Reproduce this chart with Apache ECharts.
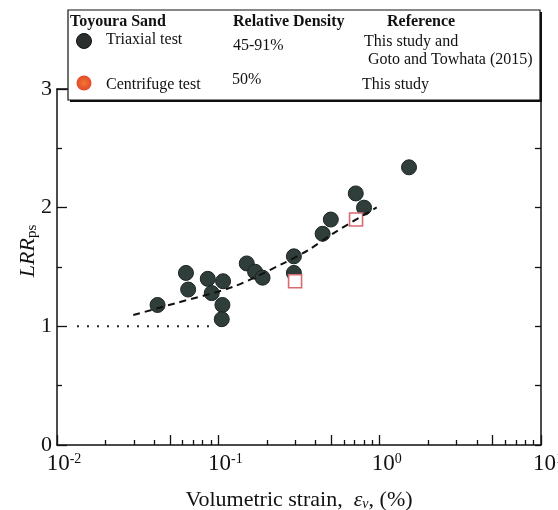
<!DOCTYPE html>
<html>
<head>
<meta charset="utf-8">
<script src="https://cdn.jsdelivr.net/npm/echarts@6/dist/echarts.min.js"></script>
<style>
  html, body { margin: 0; padding: 0; background: #fff; }
  #main { width: 558px; height: 510px; }
</style>
</head>
<body>
<div id="main"></div>
<script>
// triaxial tests (this study + Goto and Towhata 2015)
var triaxialStrain = [0.042, 0.063, 0.065, 0.086, 0.091, 0.107, 0.106, 0.105, 0.150, 0.169, 0.188, 0.294, 0.294, 0.443, 0.498, 0.711, 0.80, 1.52];
var triaxialLRR    = [1.18, 1.45, 1.31, 1.40, 1.28, 1.38, 1.18, 1.06, 1.53, 1.46, 1.41, 1.59, 1.45, 1.78, 1.90, 2.12, 2.00, 2.34];
// centrifuge tests (this study)
var centrifugeStrain = [0.299, 0.714];
var centrifugeLRR    = [1.38, 1.90];
// dashed trend line
var trendStrain = [0.0297, 0.054, 0.124, 0.253, 0.361, 0.516, 0.959];
var trendLRR    = [1.095, 1.194, 1.334, 1.531, 1.643, 1.784, 2.003];
// dotted baseline LRR = 1
var baseStrain = [0.0133, 0.089];
var baseLRR    = [1, 1];
// bottom axis minor ticks
var minorTicks = [0.02, 0.03, 0.04, 0.06, 0.07, 0.08, 0.09, 0.2, 0.3, 0.4, 0.6, 0.7, 0.8, 0.9, 2, 3, 4, 6, 7, 8, 9];
var midTicks = [0.05, 0.5, 5];

var serif = 'Liberation Serif';

function pairs(xs, ys){
	var out = [];
	for (var i = 0; i < xs.length; i++) out.push([xs[i], ys[i]]);
	return out;
}
function logs(arr){
	return arr.map(function(v){ return Math.log10(v); });
}

var tickOverlay = function(values, len){
	return {
		type: 'value', min: -2, max: 1, position: 'bottom',
		axisLine: { show: false, onZero: false },
		axisLabel: { show: false },
		splitLine: { show: false },
		axisTick: { show: true, inside: true, length: len, customValues: logs(values),
			lineStyle: { color: '#111', width: 1.3 } }
	};
};

var myChart = echarts.init(document.getElementById('main'));
var option = {
	backgroundColor: '#fff',
	animation: false,
	grid: { left: 57, right: 17, top: 89, bottom: 65, containLabel: false, outerBoundsMode: 'none' },
	xAxis: [
		{
			type: 'log', min: 0.01, max: 10, logBase: 10, position: 'bottom',
			name: '{t|Volumetric strain,  }{e|ε}{v|v}{t|, (%)}',
			nameLocation: 'middle', nameGap: 44, nameMoveOverlap: false,
			nameTextStyle: {
				rich: {
					t: { fontFamily: serif, fontSize: 22, color: '#111' },
					e: { fontFamily: serif, fontSize: 22, fontStyle: 'italic', color: '#111' },
					v: { fontFamily: serif, fontSize: 14, fontStyle: 'italic', color: '#111', padding: [8, 0, 0, 0] }
				}
			},
			axisLine: { onZero: false, lineStyle: { color: '#111', width: 1.5 } },
			axisTick: { inside: true, length: 10, lineStyle: { color: '#111', width: 1.3 } },
			splitLine: { show: false },
			axisLabel: {
				margin: 7,
				padding: [0, 0, 0, 14],
				formatter: function(v){
					var e = Math.round(Math.log10(v));
					return '{b|10}{s|' + e + '}';
				},
				rich: {
					b: { fontFamily: serif, fontSize: 23, color: '#111' },
					s: { fontFamily: serif, fontSize: 14, color: '#111', padding: [0, 0, 10, 0] }
				}
			}
		},
		tickOverlay(minorTicks, 5),
		tickOverlay(midTicks, 10),
		{
			type: 'value', min: -2, max: 1, position: 'top',
			axisLine: { show: true, onZero: false, lineStyle: { color: '#111', width: 1.5 } },
			axisTick: { show: false }, axisLabel: { show: false }, splitLine: { show: false }
		}
	],
	yAxis: [
		{
			type: 'value', min: 0, max: 3, interval: 1, position: 'left',
			name: '{l|LRR}{p|ps}',
			nameLocation: 'middle', nameGap: 17, nameRotate: 90, nameMoveOverlap: false,
			nameTextStyle: {
				padding: [0, 0, 0, 32],
				rich: {
					l: { fontFamily: serif, fontSize: 22, fontStyle: 'italic', color: '#111' },
					p: { fontFamily: serif, fontSize: 15, color: '#111', padding: [9, 0, 0, 0] }
				}
			},
			axisLine: { onZero: false, lineStyle: { color: '#111', width: 1.5 } },
			axisTick: { inside: true, length: 10, lineStyle: { color: '#111', width: 1.3 } },
			minorTick: { show: true, splitNumber: 2, length: 5, lineStyle: { color: '#111', width: 1.3 } },
			splitLine: { show: false },
			axisLabel: { margin: 5, fontFamily: serif, fontSize: 22, color: '#111' }
		},
		{
			type: 'value', min: 0, max: 3, interval: 0.5, position: 'right',
			axisLine: { show: true, onZero: false, lineStyle: { color: '#111', width: 1.5 } },
			axisTick: { inside: true, length: 6, lineStyle: { color: '#111', width: 1.3 } },
			axisLabel: { show: false }, splitLine: { show: false }
		}
	],
	series: [
		{
			type: 'line', data: pairs(baseStrain, baseLRR), symbol: 'none',
			lineStyle: { color: '#222', width: 2, type: [2, 8] }
		},
		{
			type: 'line', data: pairs(trendStrain, trendLRR), symbol: 'none', smooth: 0.3,
			lineStyle: { color: '#111', width: 2, type: [7, 5] }
		},
		{
			name: 'Triaxial test', type: 'scatter', data: pairs(triaxialStrain, triaxialLRR),
			symbol: 'circle', symbolSize: 15,
			itemStyle: { color: '#2f3e3a', borderColor: '#1b2421', borderWidth: 1, opacity: 1 }
		},
		{
			name: 'Centrifuge test', type: 'scatter', data: pairs(centrifugeStrain, centrifugeLRR),
			symbol: 'rect', symbolSize: 13,
			itemStyle: { color: '#fff', borderColor: '#d96a72', borderWidth: 1.6, opacity: 1 }
		}
	],
	graphic: [
		{ type: 'rect', z: 100, shape: { x: 70, y: 12, width: 472, height: 90 }, style: { fill: '#111' } },
		{ type: 'rect', z: 101, shape: { x: 68, y: 10, width: 472, height: 90 }, style: { fill: '#fff', stroke: '#111', lineWidth: 1.2 } },
		{ type: 'text', z: 102, x: 70, y: 22, style: { text: 'Toyoura Sand', font: 'bold 16px "Liberation Serif"', fill: '#111', verticalAlign: 'middle' } },
		{ type: 'text', z: 102, x: 233, y: 22, style: { text: 'Relative Density', font: 'bold 16px "Liberation Serif"', fill: '#111', verticalAlign: 'middle' } },
		{ type: 'text', z: 102, x: 387, y: 22, style: { text: 'Reference', font: 'bold 16px "Liberation Serif"', fill: '#111', verticalAlign: 'middle' } },
		{ type: 'circle', z: 102, shape: { cx: 84, cy: 41, r: 7.5 }, style: { fill: '#2b302f', stroke: '#111', lineWidth: 1 } },
		{ type: 'text', z: 102, x: 106, y: 40, style: { text: 'Triaxial test', font: '16px "Liberation Serif"', fill: '#111', verticalAlign: 'middle' } },
		{ type: 'text', z: 102, x: 233, y: 46, style: { text: '45-91%', font: '16px "Liberation Serif"', fill: '#111', verticalAlign: 'middle' } },
		{ type: 'text', z: 102, x: 364, y: 42, style: { text: 'This study and', font: '16px "Liberation Serif"', fill: '#111', verticalAlign: 'middle' } },
		{ type: 'text', z: 102, x: 368, y: 60, style: { text: 'Goto and Towhata (2015)', font: '16px "Liberation Serif"', fill: '#111', verticalAlign: 'middle' } },
		{ type: 'circle', z: 102, shape: { cx: 84, cy: 83, r: 7.5 },
			style: { fill: { type: 'radial', x: 0.5, y: 0.5, r: 0.5, colorStops: [{ offset: 0, color: '#f2792f' }, { offset: 1, color: '#e4472c' }] } } },
		{ type: 'text', z: 102, x: 106, y: 85, style: { text: 'Centrifuge test', font: '16px "Liberation Serif"', fill: '#111', verticalAlign: 'middle' } },
		{ type: 'text', z: 102, x: 232, y: 80, style: { text: '50%', font: '16px "Liberation Serif"', fill: '#111', verticalAlign: 'middle' } },
		{ type: 'text', z: 102, x: 362, y: 85, style: { text: 'This study', font: '16px "Liberation Serif"', fill: '#111', verticalAlign: 'middle' } }
	]
};
myChart.setOption(option);
</script>
</body>
</html>
